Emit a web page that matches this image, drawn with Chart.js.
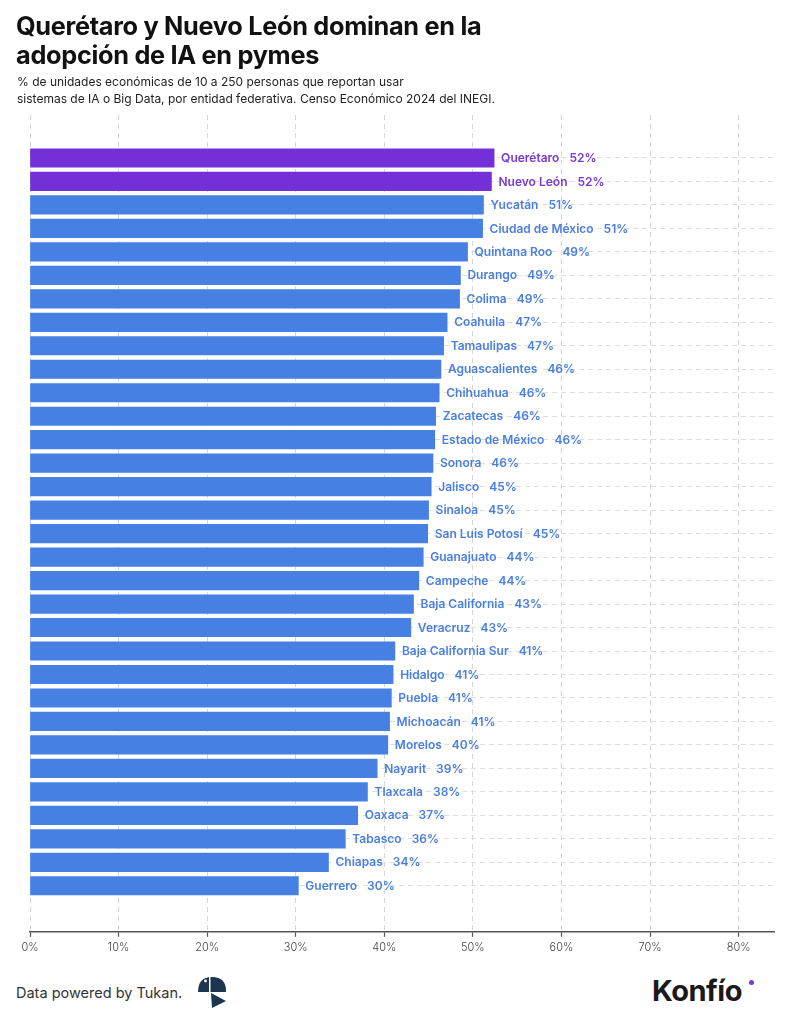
<!DOCTYPE html>
<html>
<head>
<meta charset="utf-8">
<script src="https://cdn.jsdelivr.net/npm/chart.js@4.4.1/dist/chart.umd.min.js"></script>
<style>
  body { margin: 0; background: #fff; font-family: Inter, sans-serif; }
  #page { position: relative; width: 786px; height: 1024px; overflow: hidden; }
  #wrap { position: absolute; left: 0; top: 0; width: 786px; height: 964px; }
  .title { position: absolute; left: 16px; top: 11px; font-size: 25.3px; font-weight: 700; line-height: 29px; color: #111; letter-spacing: -0.3px; }
  .sub { position: absolute; left: 17px; top: 73px; font-size: 12px; line-height: 17px; color: #222; }
  .foot { position: absolute; left: 16px; top: 984px; font-size: 14.5px; color: #333; }
  .konfio { position: absolute; left: 652px; top: 973px; font-size: 29px; font-weight: 700; color: #1a1a1a; letter-spacing: -0.5px; }
  .dot { position: absolute; left: 749px; top: 980px; width: 5px; height: 5px; border-radius: 50%; background: #7a3ad6; }
  .tukan { position: absolute; left: 198px; top: 977px; }
</style>
</head>
<body>
<div id="page">
  <div id="wrap"><canvas id="chart"></canvas></div>
  <div class="title">Querétaro y Nuevo León dominan en la<br>adopción de IA en pymes</div>
  <div class="sub">% de unidades económicas de 10 a 250 personas que reportan usar<br>sistemas de IA o Big Data, por entidad federativa. Censo Económico 2024 del INEGI.</div>
  <div class="foot">Data powered by Tukan.</div>
  <svg class="tukan" width="30" height="32" viewBox="0 0 30 32">
    <path d="M0 15 Q0 0 14 0 Q28 0 28 14 L28 15 Z" fill="#1c3650"/>
    <rect x="11" y="0" width="1.5" height="15" fill="#fff"/>
    <circle cx="7.5" cy="4" r="1.4" fill="#fff"/>
    <path d="M13 16 L14 31 L28 24 Z" fill="#1c3650"/>
  </svg>
  <div class="konfio">Konfío</div>
  <div class="dot"></div>
</div>
<script>
const categories = ["Querétaro", "Nuevo León", "Yucatán", "Ciudad de México", "Quintana Roo", "Durango", "Colima", "Coahuila", "Tamaulipas", "Aguascalientes", "Chihuahua", "Zacatecas", "Estado de México", "Sonora", "Jalisco", "Sinaloa", "San Luis Potosí", "Guanajuato", "Campeche", "Baja California", "Veracruz", "Baja California Sur", "Hidalgo", "Puebla", "Michoacán", "Morelos", "Nayarit", "Tlaxcala", "Oaxaca", "Tabasco", "Chiapas", "Guerrero"];
const values = [52.4, 52.1, 51.2, 51.1, 49.4, 48.6, 48.5, 47.1, 46.7, 46.4, 46.2, 45.8, 45.7, 45.5, 45.3, 45.0, 44.9, 44.4, 43.9, 43.3, 43.0, 41.2, 41.0, 40.8, 40.6, 40.4, 39.2, 38.1, 37.0, 35.6, 33.7, 30.3];
const highlighted = ["Querétaro", "Nuevo León"];
const xTicks = [0, 10, 20, 30, 40, 50, 60, 70, 80];

const purple = "#7230d6";
const blue = "#4680e2";
const purpleText = "#7a3ad6";
const blueText = "#4a7fe0";

const barLabels = {
  id: "barLabels",
  afterDatasetsDraw(chart) {
    const ctx = chart.ctx;
    const meta = chart.getDatasetMeta(0);
    ctx.save();
    ctx.font = "600 12px Inter";
    ctx.textBaseline = "middle";
    meta.data.forEach((bar, i) => {
      const name = categories[i];
      ctx.fillStyle = highlighted.includes(name) ? purpleText : blueText;
      const x = bar.x + 7;
      ctx.fillText(name, x, bar.y + 0.5);
      const w = ctx.measureText(name).width;
      ctx.fillText(Math.round(values[i]) + "%", x + w + 10, bar.y + 0.5);
    });
    ctx.restore();
  },
};

new Chart(document.getElementById("chart"), {
  type: "bar",
  data: {
    datasets: [
      {
        data: values.map((v, i) => ({ x: v, y: i })),
        backgroundColor: categories.map((c) => (highlighted.includes(c) ? purple : blue)),
        barThickness: 18.5,
        borderWidth: 0,
      },
    ],
  },
  options: {
    indexAxis: "y",
    responsive: true,
    maintainAspectRatio: false,
    animation: false,
    layout: {
      padding: { left: 30, right: 12, top: 115, bottom: 6 },
    },
    plugins: {
      legend: { display: false },
      tooltip: { enabled: false },
    },
    scales: {
      x: {
        type: "linear",
        min: 0,
        max: 84,
        afterBuildTicks: (scale) => {
          scale.ticks = xTicks.map((v) => ({ value: v }));
        },
        ticks: {
          color: "#444",
          font: { family: "Inter", size: 11, weight: 300 },
          padding: 4,
          callback: (v) => v + "%",
        },
        grid: {
          color: "#d6d6d6",
          lineWidth: 1,
          tickLength: 5,
          tickColor: "#555",
          tickWidth: 1.2,
        },
        border: {
          display: true,
          color: "#555",
          width: 1.5,
          dash: [5, 4],
        },
      },
      y: {
        type: "linear",
        reverse: true,
        offset: false,
        bounds: "data",
        min: -1.83,
        max: 32.96,
        afterBuildTicks: (scale) => {
          scale.ticks = categories.map((c, i) => ({ value: i }));
        },
        ticks: { display: false },
        grid: {
          offset: false,
          color: "#dedede",
          lineWidth: 1,
          drawTicks: false,
        },
        border: {
          display: false,
          dash: [5, 4],
        },
      },
    },
  },
  plugins: [barLabels],
});
</script>
</body>
</html>
